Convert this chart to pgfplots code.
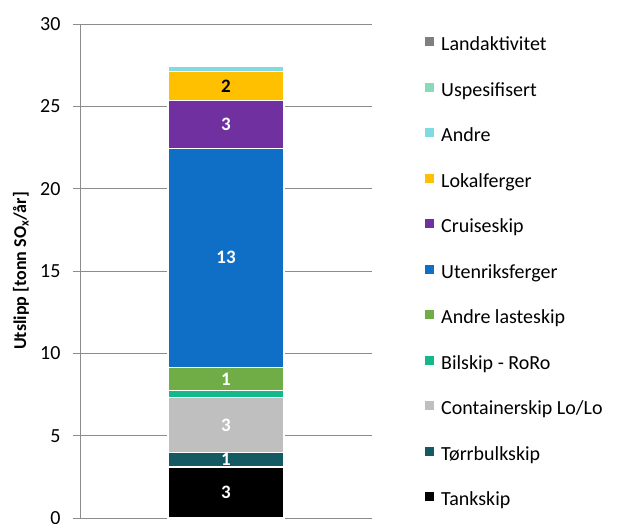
\documentclass[border=0pt]{standalone}
\usepackage{pgfplots}
\pgfplotsset{compat=1.18}
\usepackage{fontspec}
\setmainfont{Carlito}

\definecolor{cTank}{HTML}{000000}
\definecolor{cTorr}{HTML}{155A62}
\definecolor{cCont}{HTML}{BFBFBF}
\definecolor{cBil}{HTML}{14B98A}
\definecolor{cLast}{HTML}{70AD47}
\definecolor{cUten}{HTML}{0F6FC6}
\definecolor{cCrui}{HTML}{7030A0}
\definecolor{cLokal}{HTML}{FFC000}
\definecolor{cAndre}{HTML}{80DAE2}
\definecolor{cUspes}{HTML}{88DAB9}
\definecolor{cLand}{HTML}{7F7F7F}
\definecolor{gridc}{HTML}{8C8C8C}

% one segment: colour, label colour, label (placed in the middle of the segment)
\pgfplotsset{
  seg/.style n args={3}{
    fill=#1, draw=white, line width=1.2pt,
    nodes near coords={#3},
    every node near coord/.style={anchor=center, text=#2,
      font=\fontsize{19}{22}\selectfont\bfseries},
  },
  segnolabel/.style={fill=#1, draw=white, line width=1.2pt},
}

\begin{document}
\begin{tikzpicture}
\begin{axis}[
    scale only axis,
    width=292pt, height=494pt,
    ybar stacked,
    bar width=116pt,
    xmin=-1, xmax=1,
    ymin=0, ymax=30,
    xtick=\empty,
    ytick={0,5,...,30},
    ymajorgrids=true,
    grid style={gridc, line width=0.9pt},
    axis x line*=bottom,
    axis y line*=left,
    axis line style={gridc, line width=0.9pt},
    x axis line style={draw=none},
    tick align=outside,
    major tick length=7pt,
    tick style={gridc, line width=0.9pt},
    ticklabel style={font=\fontsize{20}{24}\selectfont},
    yticklabel style={xshift=-9pt},
    /pgf/number format/assume math mode=true,
    ylabel={\textbf{Utslipp [tonn SO\textsubscript{x}/år]}},
    every axis y label/.style={at={(rel axis cs:0,0.5)}, anchor=center, rotate=90,
      yshift=59pt, font=\fontsize{18}{22}\selectfont},
    clip=false,
    reverse legend,
    legend style={
      at={(1,0.5)}, anchor=west, xshift=53pt, yshift=-2.5pt,
      draw=none, fill=none, inner sep=0pt,
      row sep=26.5pt,
      nodes={inner sep=0pt, text height=14pt, text depth=5pt, font=\fontsize{20}{24}\selectfont},
      /tikz/every odd column/.append style={column sep=7pt},
    },
    legend cell align=left,
    legend image code/.code={\fill[#1, draw=none] (0pt,0pt) rectangle (9pt,9pt);},
]
\addplot[seg={cTank}{white}{3}] coordinates {(0,3.1)};
\addplot[seg={cTorr}{white}{1}] coordinates {(0,0.9)};
\addplot[seg={cCont}{white}{3}] coordinates {(0,3.3)};
\addplot[segnolabel=cBil] coordinates {(0,0.45)};
\addplot[seg={cLast}{white}{1}] coordinates {(0,1.4)};
\addplot[seg={cUten}{white}{13}] coordinates {(0,13.3)};
\addplot[seg={cCrui}{white}{3}] coordinates {(0,2.9)};
\addplot[seg={cLokal}{black}{2}] coordinates {(0,1.75)};
\addplot[segnolabel=cAndre] coordinates {(0,0.35)};
\addplot[segnolabel=cUspes] coordinates {(0,0)};
\addplot[segnolabel=cLand] coordinates {(0,0)};
\legend{Tankskip, Tørrbulkskip, Containerskip Lo/Lo, Bilskip - RoRo,
        Andre lasteskip, Utenriksferger, Cruiseskip, Lokalferger,
        Andre, Uspesifisert, Landaktivitet}
\coordinate (BL) at (rel axis cs:0,0);
\end{axis}
\pgfresetboundingbox
\useasboundingbox ([shift={(-80pt,-5pt)}]BL) rectangle ++(617pt,523pt);
\end{tikzpicture}
\end{document}
